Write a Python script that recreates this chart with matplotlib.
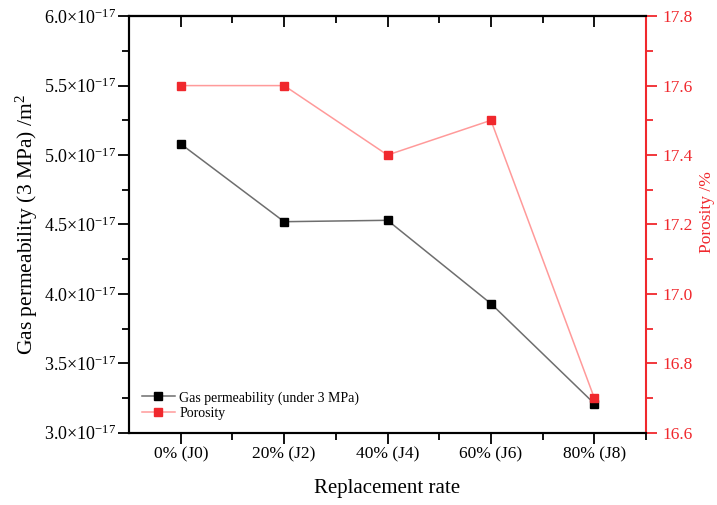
import matplotlib
matplotlib.use("Agg")
import matplotlib.pyplot as plt
from matplotlib.ticker import FuncFormatter, MultipleLocator, FixedLocator, NullFormatter

plt.rcParams['font.family'] = ['Liberation Serif', 'DejaVu Serif']
plt.rcParams['mathtext.fontset'] = 'custom'
plt.rcParams['mathtext.rm'] = 'Liberation Serif'
plt.rcParams['mathtext.it'] = 'Liberation Serif:italic'

categories = ["0% (J0)", "20% (J2)", "40% (J4)", "60% (J6)", "80% (J8)"]
permeability = [5.08e-17, 4.52e-17, 4.53e-17, 3.93e-17, 3.21e-17]
porosity = [17.6, 17.6, 17.4, 17.5, 16.7]

RED = "#f0282d"

fig = plt.figure(figsize=(7.17, 5.05), dpi=100)
ax = fig.add_axes([0.180, 0.143, 0.721, 0.825])
ax2 = ax.twinx()

x = list(range(len(categories)))
l1, = ax.plot(x, permeability, color="#6e6e6e", lw=1.1, marker="s", ms=6,
              mfc="black", mec="black", label="Gas permeability (under 3 MPa)")
l2, = ax2.plot(x, porosity, color="#ff9a9a", lw=1.1, marker="s", ms=6,
               mfc=RED, mec=RED, label="Porosity")

ax.set_xlim(-0.5, 4.5)
ax.set_ylim(3.0e-17, 6.0e-17)
ax2.set_ylim(16.6, 17.8)

minor_x = [0.5, 1.5, 2.5, 3.5, 4.5]
ax.set_xticks(x)
ax.set_xticklabels(categories, fontsize=12.5)
ax.xaxis.set_minor_locator(FixedLocator(minor_x))
ax.yaxis.set_major_locator(MultipleLocator(0.5e-17))
ax.yaxis.set_minor_locator(MultipleLocator(0.25e-17))

def fmt(v, pos):
    return r"$\mathregular{%.1f{\times}10^{-17}}$" % (v / 1e-17)
ax.yaxis.set_major_formatter(FuncFormatter(fmt))
ax.tick_params(axis="y", which="major", labelsize=13, direction="out", length=8, width=1.3, pad=1)
ax.tick_params(axis="y", which="minor", direction="out", length=5, width=1.3)
ax.tick_params(axis="x", which="major", direction="out", length=8, width=1.3, pad=2)
ax.tick_params(axis="x", which="minor", direction="out", length=5, width=1.3)

# top ticks pointing inward
top = ax.secondary_xaxis('top')
top.set_xticks(x)
top.xaxis.set_major_formatter(NullFormatter())
top.xaxis.set_minor_locator(FixedLocator(minor_x))
top.tick_params(axis="x", which="major", direction="in", length=8, width=1.3)
top.tick_params(axis="x", which="minor", direction="in", length=5, width=1.3)
top.spines["top"].set_linewidth(1.5)

ax2.yaxis.set_major_locator(MultipleLocator(0.2))
ax2.yaxis.set_minor_locator(MultipleLocator(0.1))
ax2.yaxis.set_major_formatter(FuncFormatter(lambda v, p: "%.1f" % v))
ax2.tick_params(axis="y", which="major", colors=RED, labelsize=12.5, direction="out",
                length=8, width=1.3)
ax2.tick_params(axis="y", which="minor", colors=RED, direction="out", length=5, width=1.3)
ax2.spines["right"].set_color(RED)

for s in ["left", "bottom", "top"]:
    ax.spines[s].set_linewidth(1.5)
    ax2.spines[s].set_linewidth(1.5)
ax2.spines["right"].set_linewidth(1.5)
ax.spines["right"].set_visible(False)

ax.set_ylabel("Gas permeability (3 MPa) /m$^{2}$", fontsize=15.5, labelpad=3)
ax.set_xlabel("Replacement rate", fontsize=15, labelpad=12)
ax2.set_ylabel("Porosity /%", fontsize=12.5, color=RED, labelpad=5)
ax2.yaxis.label.set_y(0.53)

ax.legend([l1, l2], [l1.get_label(), l2.get_label()], loc="lower left",
          bbox_to_anchor=(0.0, 0.0), frameon=False, fontsize=10,
          handlelength=2.4, handletextpad=0.3, labelspacing=0.2, borderaxespad=0.5)

fig.savefig("out.png", dpi=100)
